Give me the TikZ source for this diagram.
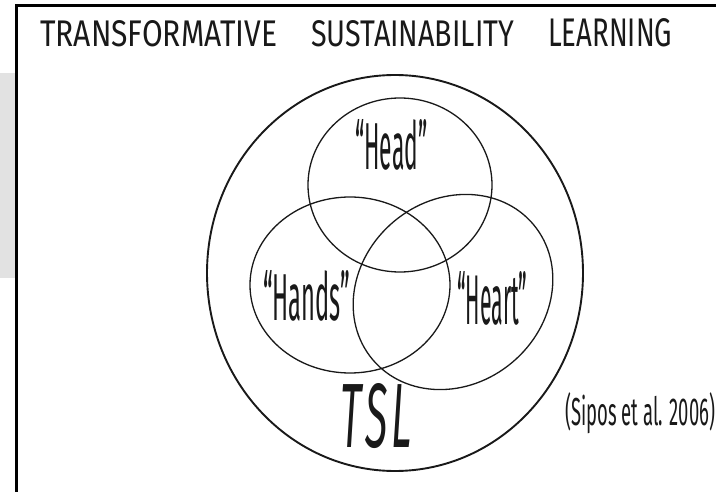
\documentclass[tikz,border=0pt]{standalone}
\usepackage{fontspec}
\setmainfont{Fira Sans}
\usepackage{graphicx}
\usetikzlibrary{shapes.geometric}
\definecolor{inkline}{RGB}{25,25,25}
\definecolor{sidegray}{RGB}{226,226,226}
\newcommand{\fitword}[3]{\resizebox{#1pt}{#2pt}{#3}}

\begin{document}
\begin{tikzpicture}[x=1pt,y=-1pt,
  ring/.style={draw=inkline,ellipse,line width=1.3pt,inner sep=0pt},
  word/.style={inner sep=0pt,anchor=base west,text=inkline}]
  \useasboundingbox (0,0) rectangle (716,492);
  \fill[sidegray] (0,73) rectangle (15,278);
  \draw[line width=3pt,draw=black] (16.5,492) -- (16.5,5.5) -- (716,5.5);
  % title
  \node[word] (ttrans) at (40,47)  {\fitword{237}{26}{TRANSFORMATIVE}};
  \node[word] (tsust)  at (311,47) {\fitword{203}{26}{SUSTAINABILITY}};
  \node[word] (tlearn) at (548,47) {\fitword{124}{28}{LEARNING}};
  % sets
  \node[ring,line width=1.9pt,minimum width=376pt,minimum height=396pt] (tslset) at (395,273) {};
  \node[ring,minimum width=184pt,minimum height=174pt] (headset) at (400,185) {};
  \node[ring,minimum width=200pt,minimum height=176pt] (handsset) at (350,285) {};
  \node[ring,rotate=40,minimum width=210pt,minimum height=184pt] (heartset) at (453,292) {};
  % labels
  \node[word] (head)  at (355,170) {\fitword{72}{50}{“Head”}};
  \node[word] (hands) at (263,320) {\fitword{87}{50}{“Hands”}};
  \node[word] (heart) at (457,325) {\fitword{70}{53}{“Heart”}};
  \node[word] (tsl)   at (340,447) {\fitword{72}{64}{\itshape T\kern1pt S\kern1pt L}};
  \node[word] (cite)  at (565,425) {\fitword{150}{33}{(Sipos et al. 2006)}};
\end{tikzpicture}
\end{document}
